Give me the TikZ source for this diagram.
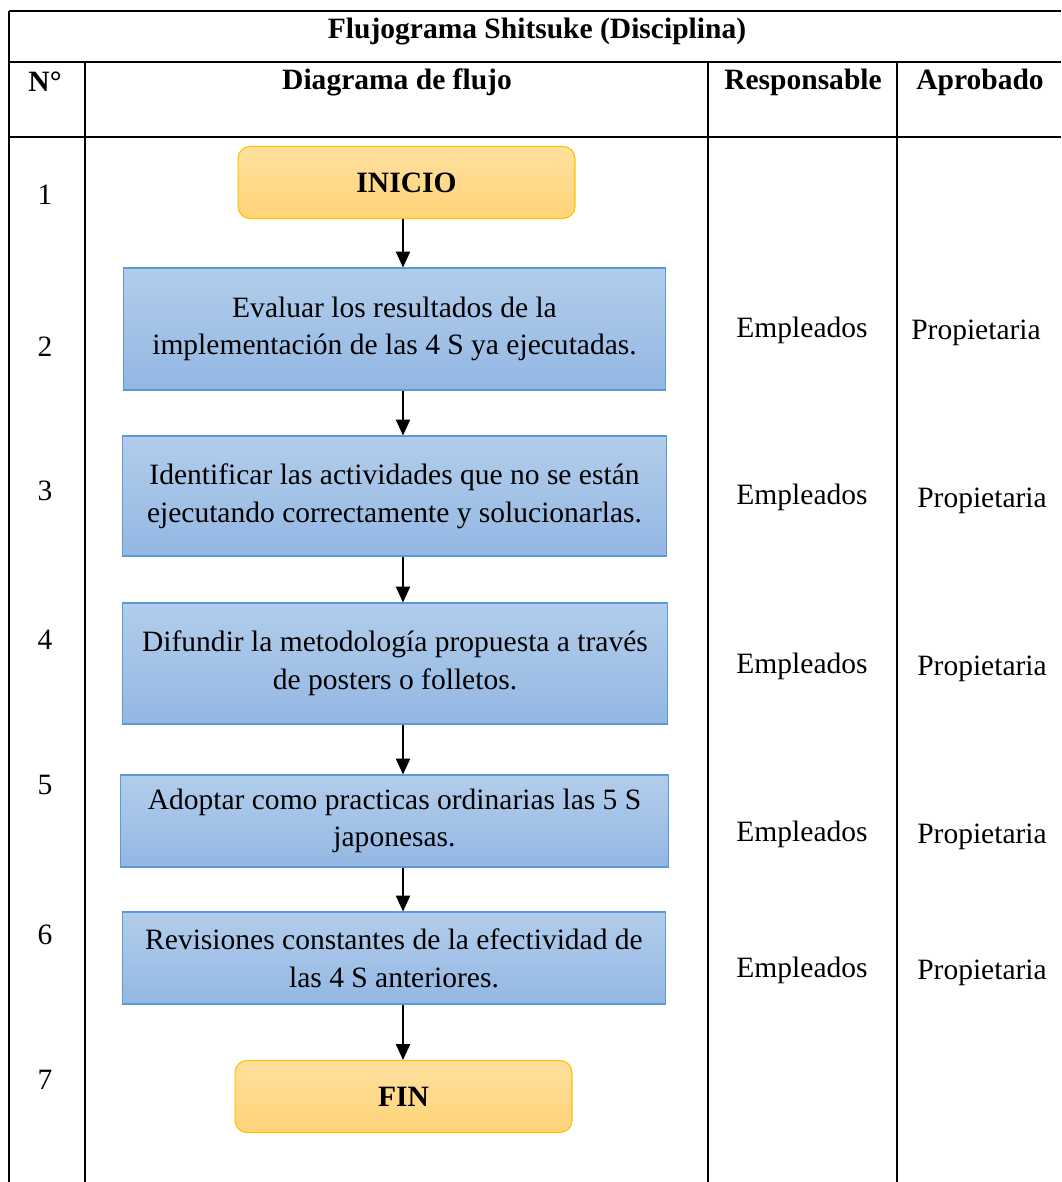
\documentclass[tikz,border=0pt]{standalone}
\usepackage{fontspec}
\setmainfont{Liberation Serif}
\usepackage{tikz}
\usetikzlibrary{arrows.meta, positioning, calc}
\definecolor{boxtop}{HTML}{B2CDEB}
\definecolor{boxbot}{HTML}{93B7E3}
\definecolor{boxline}{HTML}{5B9BD5}
\definecolor{termtop}{HTML}{FFE09F}
\definecolor{termbot}{HTML}{FFD478}
\definecolor{termline}{HTML}{FFC000}
\tikzstyle{process} = [rectangle, inner sep=0pt, align=center, draw=boxline, line width=0.6pt, top color=boxtop, bottom color=boxbot, font=\fontsize{16.8}{21.5}\selectfont]
\tikzstyle{terminal} = [rectangle, rounded corners=0.24cm, inner sep=0pt, minimum width=6.74cm, minimum height=1.44cm, draw=termline, line width=0.6pt, top color=termtop, bottom color=termbot, font=\bfseries\fontsize{16.8}{21.5}\selectfont]
\tikzstyle{arrow} = [line width=1pt, -{Triangle[length=9pt, width=8pt]}]
\tikzstyle{cell} = [font=\fontsize{16.8}{20}\selectfont]
\tikzstyle{head} = [font=\bfseries\fontsize{16.8}{20}\selectfont]
\tikzstyle{rule} = [line width=1.6pt]

\begin{document}
\begin{tikzpicture}[x=0.02cm, y=-0.02cm]
    \useasboundingbox (0,0) rectangle (1061,1182);

    % table rules
    \draw[rule] (9,11) -- (1061,11);
    \draw[rule] (9,62) -- (1061,62);
    \draw[rule] (9,137) -- (1061,137);
    \draw[rule] (9,11) -- (9,1182);
    \draw[rule] (85,62) -- (85,1182);
    \draw[rule] (708,62) -- (708,1182);
    \draw[rule] (897,62) -- (897,1182);

    % header
    \node[head] (title) at (537,32) {Flujograma Shitsuke (Disciplina)};
    \node[head] (hnum) at (45,82) {N°};
    \node[head] (hflow) at (397,82) {Diagrama de flujo};
    \node[head] (hresp) at (803,82) {Responsable};
    \node[head] (happr) at (980,82) {Aprobado};

    % flow
    \coordinate (axis) at (403,0);
    \node[terminal] (inicio) at (406.5,182.5) {INICIO};
    \node[process, minimum width=10.86cm, minimum height=2.44cm] (eval) at (394.5,329) {Evaluar los resultados de la\\implementación de las 4 S ya ejecutadas.};
    \node[process, minimum width=10.9cm, minimum height=2.4cm] (ident) at (394.5,496) {Identificar las actividades que no se están\\ejecutando correctamente y solucionarlas.};
    \node[process, minimum width=10.92cm, minimum height=2.42cm] (difun) at (395,663.5) {Difundir la metodología propuesta a través\\de posters o folletos.};
    \node[process, minimum width=10.98cm, minimum height=1.84cm] (adopt) at (394.5,821) {Adoptar como practicas ordinarias las 5 S\\japonesas.};
    \node[process, minimum width=10.88cm, minimum height=1.84cm] (revis) at (394,958) {Revisiones constantes de la efectividad de\\las 4 S anteriores.};
    \node[terminal] (fin) at (403.5,1096.5) {FIN};

    \draw[arrow] (inicio.south -| axis) -- (eval.north -| axis);
    \draw[arrow] (eval.south -| axis) -- (ident.north -| axis);
    \draw[arrow] (ident.south -| axis) -- (difun.north -| axis);
    \draw[arrow] (difun.south -| axis) -- (adopt.north -| axis);
    \draw[arrow] (adopt.south -| axis) -- (revis.north -| axis);
    \draw[arrow] (revis.south -| axis) -- (fin.north -| axis);

    % numbers
    \node[cell] (n1) at (45,195) {1};
    \node[cell] (n2) at (45,347) {2};
    \node[cell] (n3) at (45,491) {3};
    \node[cell] (n4) at (45,640) {4};
    \node[cell] (n5) at (45,785) {5};
    \node[cell] (n6) at (45,935) {6};
    \node[cell] (n7) at (45,1080) {7};

    % responsible / approved
    \node[cell] (r2) at (802,330) {Empleados};
    \node[cell] (r3) at (802,497) {Empleados};
    \node[cell] (r4) at (802,666) {Empleados};
    \node[cell] (r5) at (802,834) {Empleados};
    \node[cell] (r6) at (802,970) {Empleados};
    \node[cell] (a2) at (976,333) {Propietaria};
    \node[cell] (a3) at (982,501) {Propietaria};
    \node[cell] (a4) at (982,669) {Propietaria};
    \node[cell] (a5) at (982,837) {Propietaria};
    \node[cell] (a6) at (982,973) {Propietaria};
\end{tikzpicture}
\end{document}
